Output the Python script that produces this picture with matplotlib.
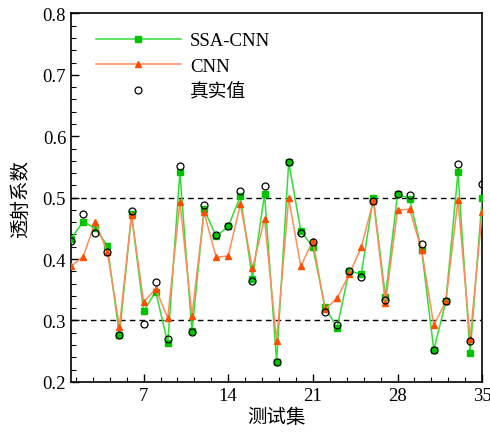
import numpy as np
import matplotlib
matplotlib.use("Agg")
import matplotlib.pyplot as plt
from matplotlib.ticker import MultipleLocator

plt.rcParams['font.family'] = ['Liberation Serif', 'Noto Sans CJK SC']
plt.rcParams['mathtext.fontset'] = 'stix'

# sample index
x = np.arange(1, 36)

# SSA-CNN prediction
ssa_cnn = [0.433, 0.461, 0.450, 0.422, 0.276, 0.473, 0.315, 0.347, 0.263, 0.541,
           0.282, 0.481, 0.437, 0.453, 0.502, 0.368, 0.506, 0.233, 0.558, 0.446,
           0.419, 0.322, 0.288, 0.381, 0.375, 0.500, 0.338, 0.506, 0.498, 0.414,
           0.252, 0.331, 0.541, 0.247, 0.499]

# CNN prediction
cnn = [0.388, 0.404, 0.460, 0.412, 0.290, 0.472, 0.330, 0.351, 0.304, 0.493,
       0.308, 0.476, 0.403, 0.405, 0.489, 0.385, 0.465, 0.267, 0.499, 0.388,
       0.430, 0.318, 0.336, 0.375, 0.419, 0.495, 0.328, 0.480, 0.481, 0.414,
       0.292, 0.331, 0.496, 0.270, 0.476]

# true values
true_vals = [0.429, 0.474, 0.443, 0.412, 0.277, 0.478, 0.294, 0.362, 0.269, 0.552,
             0.281, 0.488, 0.439, 0.453, 0.511, 0.365, 0.519, 0.233, 0.558, 0.443,
             0.428, 0.314, 0.292, 0.381, 0.370, 0.495, 0.333, 0.506, 0.504, 0.424,
             0.252, 0.331, 0.555, 0.266, 0.522]

fig = plt.figure(figsize=(4.9, 4.39), dpi=100)
ax = fig.add_axes([0.145, 0.128, 0.839, 0.839])

ax.axhline(0.5, color='black', linestyle=(0, (4, 3)), linewidth=1.0, zorder=1)
ax.axhline(0.3, color='black', linestyle=(0, (4, 3)), linewidth=1.0, zorder=1)

ax.plot(x, ssa_cnn, color='#33dd33', linewidth=1.1, marker='s', markersize=5,
        markerfacecolor='#00c400', markeredgecolor='#00c400', label='SSA-CNN', zorder=3)
ax.plot(x, cnn, color='#ff8c5a', linewidth=1.1, marker='^', markersize=5,
        markerfacecolor='#ff4e00', markeredgecolor='#ff4e00', label='CNN', zorder=4)
ax.plot(x, true_vals, linestyle='none', marker='o', markersize=5,
        markerfacecolor='none', markeredgecolor='black', markeredgewidth=0.9,
        label='真实值', zorder=5)

ax.set_xlim(1, 35)
ax.set_ylim(0.2, 0.8)
ax.xaxis.set_minor_locator(MultipleLocator(1.4))
ax.yaxis.set_minor_locator(MultipleLocator(0.02))
ax.set_xticks([7, 14, 21, 28, 35])
ax.set_yticks([0.2, 0.3, 0.4, 0.5, 0.6, 0.7, 0.8])
ax.set_yticklabels(['0.2', '0.3', '0.4', '0.5', '0.6', '0.7', '0.8'])
ax.tick_params(which='both', direction='in', top=False, right=False, labelsize=13.5)
ax.tick_params(which='major', length=6, width=1.0)
ax.tick_params(which='minor', length=3.5, width=0.8)
for s in ax.spines.values():
    s.set_linewidth(1.2)

ax.set_xlabel('测试集', fontsize=14, family=['Noto Sans CJK SC'], labelpad=2)
ax.set_ylabel('透射系数', fontsize=14, family=['Noto Sans CJK SC'], labelpad=8)

leg = ax.legend(loc='upper left', bbox_to_anchor=(0.02, 0.995), frameon=False,
                handlelength=4.5, handletextpad=0.5, labelspacing=0.45,
                prop={'family': ['Liberation Serif', 'Noto Sans CJK SC'], 'size': 13.5})

fig.savefig('out.png', dpi=100)
